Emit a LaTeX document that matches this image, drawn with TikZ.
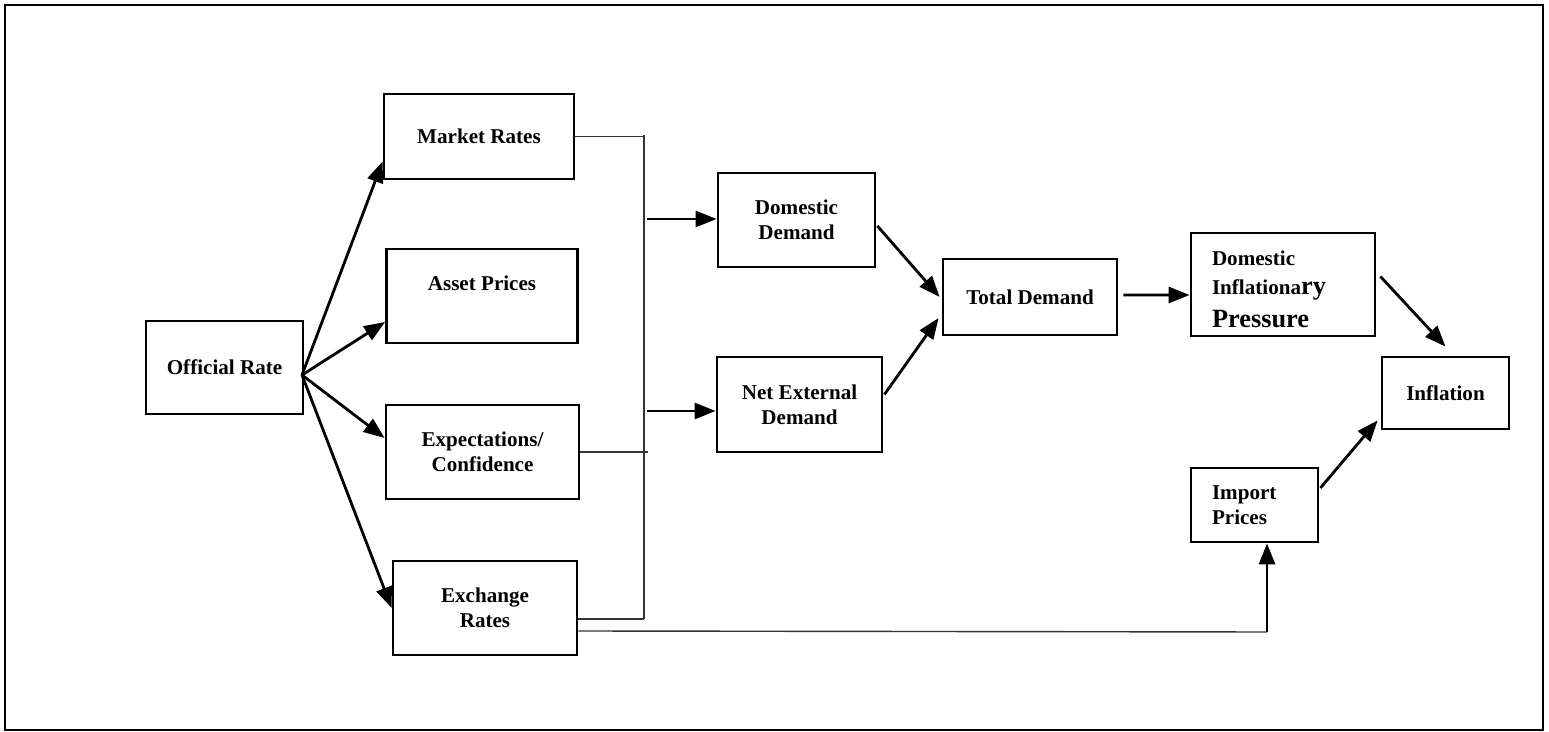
\documentclass[tikz,border=0pt]{standalone}
\usepackage{fontspec}
\setmainfont{Liberation Serif}
\usetikzlibrary{arrows.meta,calc}
\newcommand{\bigtxt}{\fontsize{15}{17}\selectfont}
\begin{document}
\begin{tikzpicture}[x={(0.02cm,0cm)},y={(0cm,-0.02cm)},
    box/.style={draw,line width=1.6pt,align=center,inner sep=0pt,
        font=\fontsize{12}{14.2}\selectfont\bfseries},
    arr/.style={line width=1.6pt,-{Triangle[length=0.42cm,width=0.32cm]}},
    link/.style={line width=0.8pt,black!80}]
    \useasboundingbox (0,0) rectangle (1549,732);
    \draw[line width=1.6pt] (5,5) rectangle (1543,730);
    % Kasten
    \node[box,minimum width=3.14cm,minimum height=1.86cm] (off) at (224.5,367.5) {Official Rate};
    \node[box,minimum width=3.8cm,minimum height=1.7cm] (mkt) at (479,136.5) {Market Rates};
    \node[box,minimum width=3.82cm,minimum height=1.88cm] (asset) at (482,296) {Asset Prices\\ \mbox{}};
    \node[box,minimum width=3.86cm,minimum height=1.88cm] (expc) at (482.5,452) {Expectations/\\Confidence};
    \node[box,minimum width=3.68cm,minimum height=1.88cm] (exch) at (485,608) {Exchange\\Rates};
    \node[box,minimum width=3.14cm,minimum height=1.88cm] (dom) at (796.5,220) {Domestic\\Demand};
    \node[box,minimum width=3.3cm,minimum height=1.9cm] (net) at (799.5,404.5) {Net External\\Demand};
    \node[box,minimum width=3.48cm,minimum height=1.52cm] (tot) at (1030,297) {Total Demand};
    \node[box,align=left,text width=2.84cm,inner xsep=0.42cm,minimum height=2.06cm] (dip) at (1283,284.5)
        {\rule{0pt}{14pt}Domestic\\[2.3pt]Inflationa{\bigtxt ry}\\[4.5pt]{\bigtxt Pressure}};
    \node[box,minimum width=2.54cm,minimum height=1.44cm] (infl) at (1445.5,393) {Inflation};
    \node[box,align=left,text width=1.7cm,inner xsep=0.42cm,minimum height=1.48cm] (imp) at (1254.5,505)
        {Import\\Prices};
    % Facher vom Leitzins
    \coordinate (fan) at (302,375);
    \draw[arr] (fan) -- ($(mkt.west)+(0,25)$);
    \draw[arr] (fan) -- ($(asset.west)+(0,26)$);
    \draw[arr] (fan) -- ($(expc.west)+(0,-14)$);
    \draw[arr] (fan) -- (exch.west);
    % Sammelschiene
    \coordinate (busT) at (644,135);
    \coordinate (busB) at (644,619);
    \draw[link] (mkt.east) -- (mkt.east -| busT);
    \draw[link] ($(asset.east)+(0,-4)$) -- ($(asset.east)+(0,-4)$ -| busT);
    \draw[link] (expc.east) -- ++(68,0);
    \draw[link] ($(exch.east)+(0,11)$) -- (busB);
    \draw[link] (busT) -- (busB);
    \coordinate (busD) at (647,219);
    \coordinate (busN) at (647,411);
    \draw[arr] (busD) -- (dom.west |- busD);
    \draw[arr] (busN) -- (net.west |- busN);
    % Nachfrage
    \draw[arr] ($(dom.east)+(1,6)$) -- ($(tot.west)+(-2,0)$);
    \draw[arr] ($(net.east)+(1,-10)$) -- ($(tot.west)+(-3,21)$);
    \draw[arr] ($(tot.east)+(5,-2)$) -- ($(dip.west)+(0,10.5)$);
    \draw[arr] ($(dip.east)+(4,-8)$) -- ($(infl.north)+(0,-9)$);
    \draw[arr] ($(imp.east)+(1,-17)$) -- ($(infl.south west)+(-3,-10)$);
    % Wechselkurs zu Importpreisen
    \coordinate (turn) at (1267,632);
    \draw[link] ($(exch.east)+(0,23)$) -- (turn);
    \draw[arr] (turn) -- (turn |- imp.south);
\end{tikzpicture}
\end{document}
